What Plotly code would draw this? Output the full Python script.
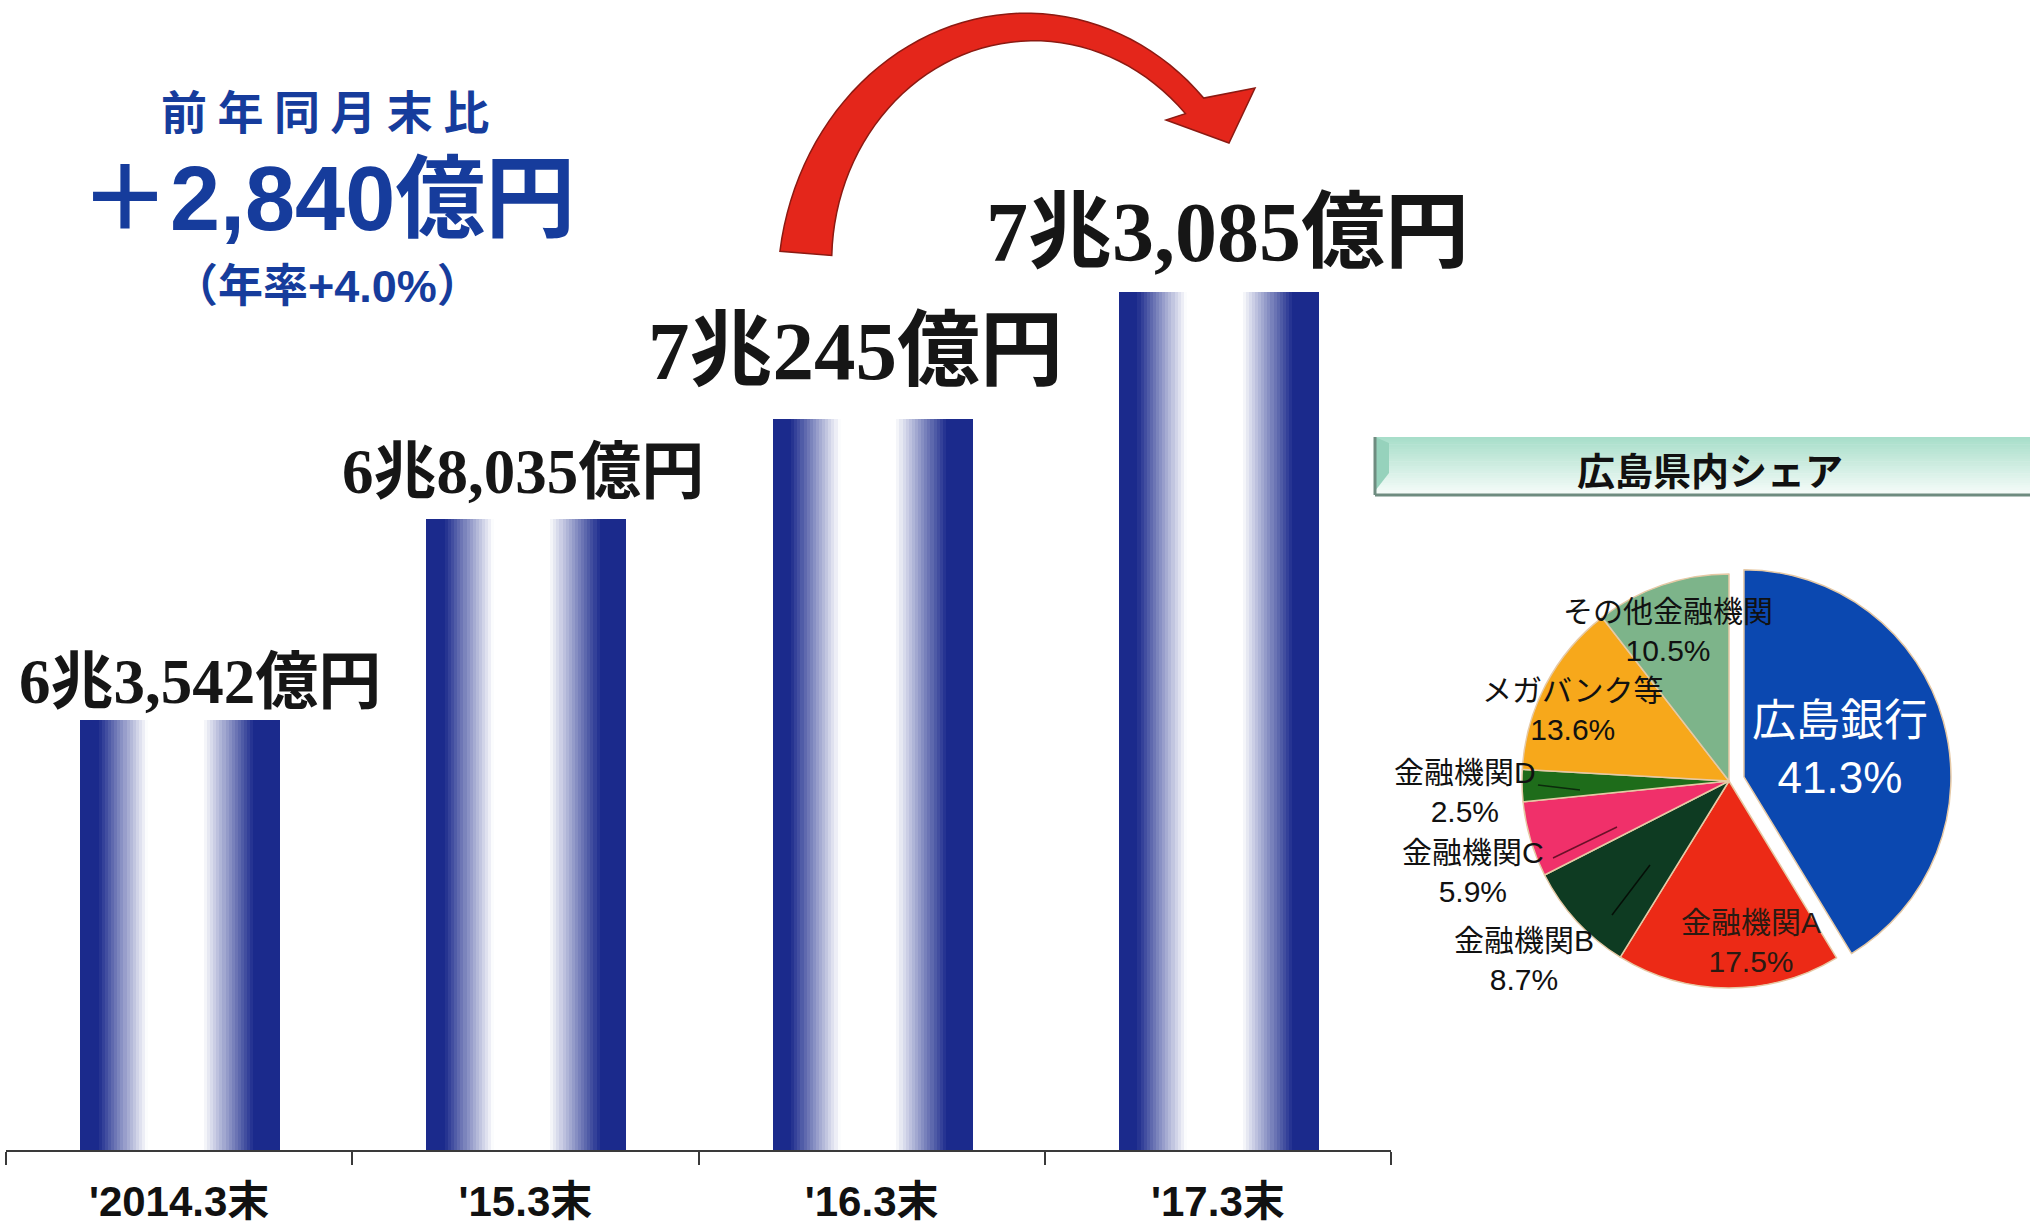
import math
import plotly.graph_objects as go

# ---- data -------------------------------------------------------------
periods = ["'2014.3末", "'15.3末", "'16.3末", "'17.3末"]
balances_oku = [63542, 68035, 70245, 73085]          # 億円

share_names = ["広島銀行", "金融機関A", "金融機関B", "金融機関C",
               "金融機関D", "メガバンク等", "その他金融機関"]
share_values = [41.3, 17.5, 8.7, 5.9, 2.5, 13.6, 10.5]   # %

# ---- canvas helpers ---------------------------------------------------
W, H = 2030, 1231


def px(x):
    return x / W


def py(y):
    return 1 - y / H


def fmt_cho(v):
    cho, oku = divmod(v, 10000)
    return f"{cho}兆{oku:,}億円"


BLUE_TXT = "#163c9c"
DARK = (27, 42, 140)

fig = go.Figure()

# ---- gradient columns, built from vertical strips ---------------------
bar_w = 0.572
n_strips = 64


def shade(f):
    if f < 0.09:
        a = 1.0
    elif f < 0.34:
        a = 1 - (f - 0.09) / 0.25
    elif f < 0.62:
        a = 0.0
    elif f < 0.88:
        a = (f - 0.62) / 0.26
    else:
        a = 1.0
    r = round(255 * (1 - a) + DARK[0] * a)
    g = round(255 * (1 - a) + DARK[1] * a)
    b = round(255 * (1 - a) + DARK[2] * a)
    return f"rgb({r},{g},{b})"


sw = bar_w / n_strips
for i in range(n_strips):
    f = (i + 0.5) / n_strips
    fig.add_trace(go.Bar(
        x=periods, y=balances_oku,
        width=[sw * 1.6] * len(periods),
        offset=[-bar_w / 2 + i * sw] * len(periods),
        marker=dict(color=shade(f), line=dict(width=0)),
        hoverinfo="skip", showlegend=False,
    ))

# ---- share pie --------------------------------------------------------
pie_colors = ["#0b48b0", "#ec2a16", "#0e3b22", "#f0306a",
              "#1e6c1a", "#f7a81b", "#7db48a"]
pull = [0.075, 0, 0, 0, 0, 0, 0]
pcx, pcy, pr = 1729, 781, 207
half = pr * (1 + max(pull))
fig.add_trace(go.Pie(
    labels=share_names, values=share_values,
    marker=dict(colors=pie_colors, line=dict(color="#e6c9a5", width=1.5)),
    sort=False, direction="clockwise", rotation=0, pull=pull,
    textinfo="none", hoverinfo="label+percent", showlegend=False,
    domain=dict(x=[px(pcx - half), px(pcx + half)],
                y=[py(pcy + half), py(pcy - half)]),
))

# ---- axes -------------------------------------------------------------
y0 = 53946
px_per_unit = 0.04482
y1 = y0 + 1150 / px_per_unit

fig.update_layout(
    width=W, height=H,
    margin=dict(l=0, r=0, t=0, b=0),
    paper_bgcolor="white", plot_bgcolor="rgba(0,0,0,0)",
    barmode="overlay", bargap=0,
    xaxis=dict(
        domain=[px(6), px(1391)], range=[-0.5, 3.5], type="category",
        showline=True, linecolor="#3a3a3a", linewidth=2,
        ticks="outside", tickson="boundaries", ticklen=13, tickwidth=2,
        tickcolor="#3a3a3a", showgrid=False,
        tickfont=dict(family="Liberation Sans, Noto Sans CJK JP", size=42,
                      color="#111111", weight="bold"),
        ticklabelstandoff=14,
        automargin=False, fixedrange=True,
    ),
    yaxis=dict(
        domain=[py(1150), 1], range=[y0, y1], visible=False,
        automargin=False, fixedrange=True,
    ),
    font=dict(family="Noto Sans CJK JP"),
)

annotations = []


def note(x, y, text, font, xref="paper", **kw):
    d = dict(x=x, y=y, xref=xref, yref="paper", text=text, showarrow=False,
             xanchor="center", yanchor="middle", align="center", font=font)
    d.update(kw)
    annotations.append(d)


# value labels above each column
label_pos = [(682, 21, 63), (472, -2, 63), (351, -16, 83), (232, 10, 84)]
for cat, v, (ly, dx, fs) in zip(periods, balances_oku, label_pos):
    note(cat, py(ly), f"<b>{fmt_cho(v)}</b>",
         dict(family="Liberation Serif, Noto Sans CJK JP", size=fs,
              color="#161616"),
         xref="x", xshift=dx)

# year-on-year change headline
diff = balances_oku[-1] - balances_oku[-2]
rate = diff / balances_oku[-2] * 100
note(px(325), py(109), "<b>前 年 同 月 末 比</b>",
     dict(family="Noto Sans CJK JP", size=46, color=BLUE_TXT))
note(px(327), py(199), f"<b>＋{diff:,}億円</b>",
     dict(family="Liberation Sans, Noto Sans CJK JP", size=90,
          color=BLUE_TXT))
note(px(327), py(286), f"<b>（年率+{rate:.1f}%）</b>",
     dict(family="Liberation Sans, Noto Sans CJK JP", size=45,
          color=BLUE_TXT))

# pie title
note(px(1710), py(468), "<b>広島県内シェア</b>",
     dict(family="Noto Sans CJK JP", size=38, color="#111111"))

# pie slice labels
slice_label_pos = [(1840, 749, 44, "white"), (1751, 942, 30, "#2a1a12"),
                   (1524, 960, 30, "#111111"), (1473, 872, 30, "#111111"),
                   (1465, 792, 30, "#111111"), (1573, 710, 30, "#111111"),
                   (1668, 631, 30, "#111111")]
for name, val, (lx, ly, fs, col) in zip(share_names, share_values,
                                        slice_label_pos):
    note(px(lx), py(ly), f"{name}<br>{val:.1f}%",
         dict(family="Liberation Sans, Noto Sans CJK JP", size=fs,
              color=col))

fig.update_layout(annotations=annotations)

# ---- decorative shapes ------------------------------------------------
shapes = []

# title plate: vertical mint-to-white gradient with bevelled left edge
tx0, tx1, ty0, ty1 = 1375, 2030, 437, 495
n_band = 24
top_c, bot_c = (168, 222, 202), (246, 252, 249)
for i in range(n_band):
    t = i / (n_band - 1)
    c = tuple(round(top_c[k] * (1 - t) + bot_c[k] * t) for k in range(3))
    ya = ty0 + (ty1 - ty0) * i / n_band
    yb = ty0 + (ty1 - ty0) * (i + 1) / n_band + 0.6
    shapes.append(dict(type="rect", xref="paper", yref="paper",
                       x0=px(tx0), x1=px(tx1), y0=py(yb), y1=py(ya),
                       fillcolor=f"rgb{c}", line=dict(width=0), layer="below"))
shapes.append(dict(
    type="path", xref="paper", yref="paper", layer="below",
    path=(f"M {px(tx0)},{py(ty0)} L {px(tx0 + 14)},{py(ty0 + 6)} "
          f"L {px(tx0 + 14)},{py(ty1 - 22)} L {px(tx0)},{py(ty1 - 4)} Z"),
    fillcolor="rgb(150,210,188)", line=dict(width=0)))
shapes.append(dict(type="line", xref="paper", yref="paper",
                   x0=px(tx0), x1=px(tx1), y0=py(ty1), y1=py(ty1),
                   line=dict(color="#6f8c80", width=3)))
shapes.append(dict(type="line", xref="paper", yref="paper",
                   x0=px(tx0), x1=px(tx0), y0=py(ty0), y1=py(ty1),
                   line=dict(color="#6f8c80", width=3)))

# thin leader strokes inside the small slices
for (ax0, ay0, ax1, ay1, col) in [(1538, 785, 1580, 790, "#0c2a0c"),
                                  (1553, 858, 1617, 827, "#6a1028"),
                                  (1612, 915, 1650, 865, "#050f07")]:
    shapes.append(dict(type="line", xref="paper", yref="paper",
                       x0=px(ax0), y0=py(ay0), x1=px(ax1), y1=py(ay1),
                       line=dict(color=col, width=1.5)))

# curved red arrow over the last two columns
cx, cy, rx, ry = 1030, 275, 225, 248
th_start, th_end = 175, 43
steps = 48
outer, inner = [], []
for k in range(steps + 1):
    th = th_start + (th_end - th_start) * k / steps
    tr = math.radians(th)
    x = cx + rx * math.cos(tr)
    y = cy - ry * math.sin(tr)
    nx, ny = math.cos(tr) / rx, -math.sin(tr) / ry
    nl = math.hypot(nx, ny)
    nx, ny = nx / nl, ny / nl
    frac = (th - th_end) / (th_start - th_end)
    w = 24 + 28 * frac ** 2
    outer.append((x + nx * w / 2, y + ny * w / 2))
    inner.append((x - nx * w / 2, y - ny * w / 2))
head = [(1255, 88), (1229, 143), (1166, 120)]
pts = outer + head + inner[::-1]
path = "M " + " L ".join(f"{px(a):.5f},{py(b):.5f}" for a, b in pts) + " Z"
shapes.append(dict(type="path", xref="paper", yref="paper", path=path,
                   fillcolor="#e4261b", line=dict(color="#8c1a12", width=1.5)))

fig.update_layout(shapes=shapes)

fig.write_html("out.html")
